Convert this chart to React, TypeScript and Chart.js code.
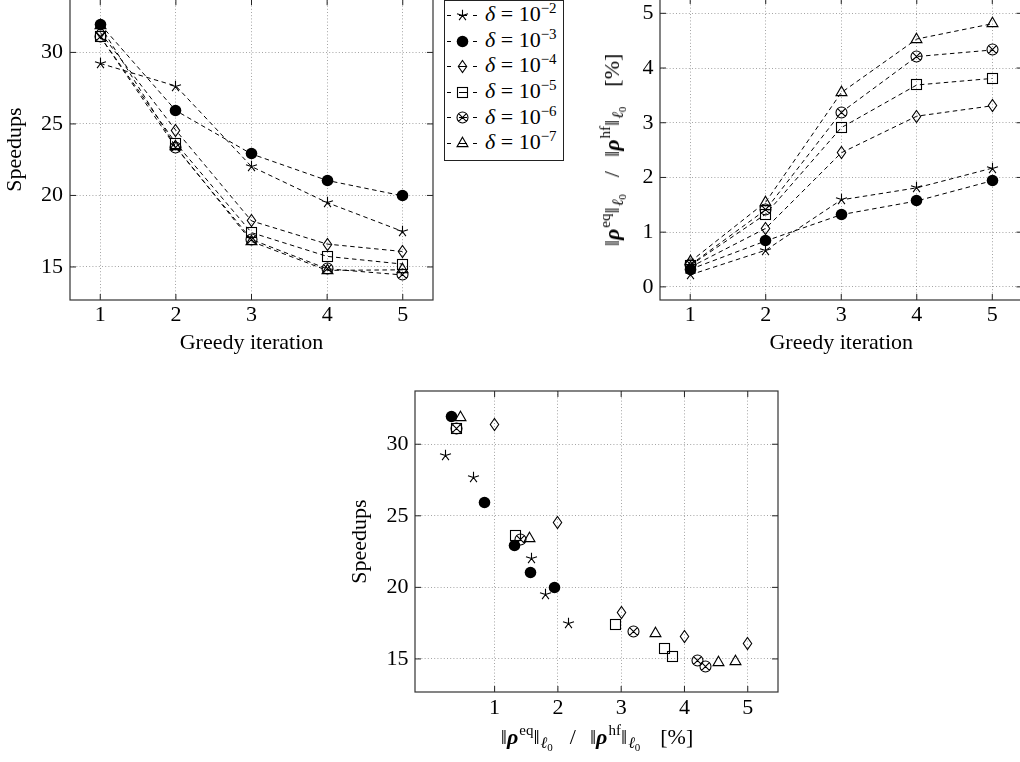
import React, { useEffect, useMemo, useRef } from 'react';
import { Chart, registerables } from 'chart.js';

Chart.register(...registerables);

const FONT = "'Liberation Serif', 'Times New Roman', Times, serif";
const FS = 22;

// ---------------- data ----------------
const iterations = [1, 2, 3, 4, 5];
const deltaExponents = ['−2', '−3', '−4', '−5', '−6', '−7'];

const speedupDelta2 = [29.23, 27.65, 22.02, 19.5, 17.48];
const speedupDelta3 = [31.97, 25.93, 22.9, 21.05, 19.97];
const speedupDelta4 = [31.4, 24.55, 18.22, 16.6, 16.08];
const speedupDelta5 = [31.1, 23.65, 17.4, 15.74, 15.2];
const speedupDelta6 = [31.1, 23.35, 16.92, 14.87, 14.44];
const speedupDelta7 = [31.85, 23.4, 16.78, 14.76, 14.8];

const ratioDelta2 = [0.22, 0.67, 1.59, 1.81, 2.17];
const ratioDelta3 = [0.32, 0.84, 1.32, 1.57, 1.94];
const ratioDelta4 = [0.36, 1.07, 2.45, 3.12, 3.31];
const ratioDelta5 = [0.39, 1.33, 2.91, 3.69, 3.81];
const ratioDelta6 = [0.4, 1.41, 3.19, 4.21, 4.33];
const ratioDelta7 = [0.46, 1.55, 3.55, 4.53, 4.81];

const speedupTicks = [15, 20, 25, 30];
const iterationTicks = [1, 2, 3, 4, 5];
const ratioTicks = [0, 1, 2, 3, 4, 5];
const scatterXTicks = [1, 2, 3, 4, 5];

const speedupRange = [12.69, 33.72];
const iterationRange = [0.6, 5.4];
const ratioRange = [-0.24, 5.28];
const scatterXRange = [-0.258, 5.478];

const speedupSeries = [speedupDelta2, speedupDelta3, speedupDelta4, speedupDelta5, speedupDelta6, speedupDelta7];
const ratioSeries = [ratioDelta2, ratioDelta3, ratioDelta4, ratioDelta5, ratioDelta6, ratioDelta7];
// In the reference scatter plot, the δ = 10^-4 series is placed at its iteration numbers.
const scatterXSeries = [ratioDelta2, ratioDelta3, iterations, ratioDelta5, ratioDelta6, ratioDelta7];

type MarkerKind = 'star' | 'dot' | 'diamond' | 'square' | 'otimes' | 'triangle';
const markerKinds: MarkerKind[] = ['star', 'dot', 'diamond', 'square', 'otimes', 'triangle'];

// ---------------- markers ----------------
function drawMarker(ctx: CanvasRenderingContext2D, kind: MarkerKind, cx: number, cy: number) {
  ctx.save();
  ctx.strokeStyle = '#000';
  ctx.fillStyle = '#000';
  ctx.lineWidth = 1.1;
  ctx.setLineDash([]);
  switch (kind) {
    case 'star': {
      const r = 5.8;
      ctx.beginPath();
      for (let k = 0; k < 5; k++) {
        const a = -Math.PI / 2 + (k * 2 * Math.PI) / 5;
        ctx.moveTo(cx, cy);
        ctx.lineTo(cx + r * Math.cos(a), cy + r * Math.sin(a));
      }
      ctx.stroke();
      break;
    }
    case 'dot':
      ctx.beginPath();
      ctx.arc(cx, cy, 5.8, 0, Math.PI * 2);
      ctx.fill();
      break;
    case 'diamond':
      ctx.beginPath();
      ctx.moveTo(cx, cy - 6);
      ctx.lineTo(cx + 4.2, cy);
      ctx.lineTo(cx, cy + 6);
      ctx.lineTo(cx - 4.2, cy);
      ctx.closePath();
      ctx.stroke();
      break;
    case 'square':
      ctx.strokeRect(cx - 5, cy - 5, 10, 10);
      break;
    case 'otimes': {
      const r = 5.5;
      const d = r * Math.SQRT1_2;
      ctx.beginPath();
      ctx.arc(cx, cy, r, 0, Math.PI * 2);
      ctx.moveTo(cx - d, cy - d);
      ctx.lineTo(cx + d, cy + d);
      ctx.moveTo(cx + d, cy - d);
      ctx.lineTo(cx - d, cy + d);
      ctx.stroke();
      break;
    }
    case 'triangle': {
      const r = 6.3;
      ctx.beginPath();
      ctx.moveTo(cx, cy - r);
      ctx.lineTo(cx + r * 0.866, cy + r * 0.5);
      ctx.lineTo(cx - r * 0.866, cy + r * 0.5);
      ctx.closePath();
      ctx.stroke();
      break;
    }
  }
  ctx.restore();
}

function makeLegendImage(kind: MarkerKind): string {
  const c = document.createElement('canvas');
  c.width = 32;
  c.height = 17;
  const ctx = c.getContext('2d')!;
  ctx.strokeStyle = '#000';
  ctx.lineWidth = 1;
  ctx.beginPath();
  ctx.moveTo(1, 8.5);
  ctx.lineTo(5, 8.5);
  ctx.moveTo(13, 8.5);
  ctx.lineTo(21, 8.5);
  ctx.moveTo(27, 8.5);
  ctx.lineTo(31, 8.5);
  ctx.stroke();
  drawMarker(ctx, kind, 16.5, 8.5);
  return c.toDataURL();
}

// Draws each dataset's marks at the positions computed by Chart.js' scales.
const markerPlugin = {
  id: 'pgfMarkers',
  afterDatasetDraw(chart: any, args: any) {
    const ds = chart.data.datasets[args.index];
    const kind: MarkerKind = ds.markerKind;
    const ctx = chart.ctx;
    args.meta.data.forEach((el: any) => {
      const { x, y } = el.getProps(['x', 'y'], true);
      drawMarker(ctx, kind, Math.round(x - 0.5) + 0.5, Math.round(y - 0.5) + 0.5);
    });
  },
};

// ---------------- chart helpers ----------------
function axis(
  range: number[],
  values: number[],
  dir: 'x' | 'y',
  size: number,
  tickPad: number,
  title?: { text: string; pad: number }
) {
  return {
    type: 'linear' as const,
    min: range[0],
    max: range[1],
    afterBuildTicks: (s: any) => {
      s.ticks = values.map((v) => ({ value: v }));
    },
    afterFit: (s: any) => {
      if (dir === 'y') s.width = size;
      else s.height = size;
    },
    grid: { color: 'rgba(0,0,0,0.45)', lineWidth: 0.8, drawTicks: false },
    border: { display: false, dash: [1, 2.2] },
    ticks: {
      color: '#000',
      font: { family: FONT, size: FS },
      padding: tickPad,
      callback: (v: any) => String(v),
    },
    title: title
      ? {
          display: true,
          text: title.text,
          color: '#000',
          font: { family: FONT, size: FS },
          padding: dir === 'y' ? { top: title.pad, bottom: 0 } : { top: 0, bottom: title.pad },
        }
      : { display: false },
  };
}

const framePlugin = {
  id: 'frameTicks',
  afterDraw(chart: any) {
    const { ctx, chartArea: a } = chart;
    const xs = chart.scales.x;
    const ys = chart.scales.y;
    const tl = 6;
    ctx.save();
    ctx.strokeStyle = '#222';
    ctx.lineWidth = 1;
    ctx.beginPath();
    xs.ticks.forEach((t: any) => {
      const p = xs.getPixelForValue(t.value);
      ctx.moveTo(p, a.bottom);
      ctx.lineTo(p, a.bottom - tl);
      ctx.moveTo(p, a.top);
      ctx.lineTo(p, a.top + tl);
    });
    ys.ticks.forEach((t: any) => {
      const p = ys.getPixelForValue(t.value);
      ctx.moveTo(a.left, p);
      ctx.lineTo(a.left + tl, p);
      ctx.moveTo(a.right, p);
      ctx.lineTo(a.right - tl, p);
    });
    ctx.stroke();
    ctx.strokeStyle = '#333';
    ctx.lineWidth = 1.2;
    ctx.strokeRect(a.left, a.top, a.right - a.left, a.bottom - a.top);
    ctx.restore();
  },
};

function datasets(xsList: number[][], ysList: number[][], showLine: boolean) {
  return xsList.map((xs, i) => ({
    label: 'δ = 10' + deltaExponents[i],
    markerKind: markerKinds[i],
    data: xs.map((x, j) => ({ x, y: ysList[i][j] })),
    showLine,
    borderColor: '#000',
    backgroundColor: 'rgba(0,0,0,0)',
    borderWidth: 1,
    borderDash: [4.5, 3.5],
    pointRadius: 0,
    pointHoverRadius: 0,
    tension: 0,
    order: 6 - i,
  }));
}

function baseOptions(scales: any, padRight: number) {
  return {
    responsive: false,
    animation: false as const,
    events: [] as any[],
    layout: { padding: { top: 20, left: 0, right: padRight, bottom: 0 } },
    plugins: { legend: { display: false }, tooltip: { enabled: false } },
    scales,
  };
}

// ---------------- rich text ----------------
const supStyle: React.CSSProperties = { fontSize: 15, verticalAlign: '9px', lineHeight: 0, marginLeft: 1 };
const subStyle: React.CSSProperties = { fontSize: 16, verticalAlign: '-4px', lineHeight: 0, marginLeft: 1 };
const subSubStyle: React.CSSProperties = { fontSize: 11, verticalAlign: '-3px', lineHeight: 0 };

function NormL0({ sup }: { sup: string }) {
  return (
    <>
      ‖<b><i>ρ</i></b><span style={supStyle}>{sup}</span>‖<span style={subStyle}><i>ℓ</i><span style={subSubStyle}>0</span></span>
    </>
  );
}

function RatioLabel() {
  return (
    <span style={{ fontFamily: FONT, fontSize: FS, lineHeight: '22px', whiteSpace: 'nowrap', color: '#000' }}>
      <NormL0 sup="eq" />
      <span style={{ margin: '0 14px 0 17px' }}>/</span>
      <NormL0 sup="hf" />
      <span style={{ marginLeft: 20 }}>[%]</span>
    </span>
  );
}

export default function App() {
  const tlRef = useRef<HTMLCanvasElement>(null);
  const trRef = useRef<HTMLCanvasElement>(null);
  const bRef = useRef<HTMLCanvasElement>(null);
  const legendImages = useMemo(() => markerKinds.map((k) => makeLegendImage(k)), []);

  useEffect(() => {
    Chart.defaults.font.family = FONT;
    const iterList = speedupSeries.map(() => iterations);
    const charts: Chart[] = [];

    charts.push(
      new Chart(tlRef.current!, {
        type: 'scatter',
        data: { datasets: datasets(iterList, speedupSeries, true) as any },
        options: baseOptions(
          {
            x: axis(iterationRange, iterationTicks, 'x', 60, 2, { text: 'Greedy iteration', pad: 4 }),
            y: axis(speedupRange, speedupTicks, 'y', 70, 7, { text: 'Speedups', pad: 2 }),
          },
          7
        ) as any,
        plugins: [markerPlugin, framePlugin],
      })
    );

    charts.push(
      new Chart(trRef.current!, {
        type: 'scatter',
        data: { datasets: datasets(iterList, ratioSeries, true) as any },
        options: baseOptions(
          {
            x: axis(iterationRange, iterationTicks, 'x', 60, 2, { text: 'Greedy iteration', pad: 4 }),
            y: axis(ratioRange, ratioTicks, 'y', 60, 6.5),
          },
          7.5
        ) as any,
        plugins: [markerPlugin, framePlugin],
      })
    );

    charts.push(
      new Chart(bRef.current!, {
        type: 'scatter',
        data: { datasets: datasets(scatterXSeries, speedupSeries, false) as any },
        options: baseOptions(
          {
            x: axis(scatterXRange, scatterXTicks, 'x', 70, 3),
            y: axis(speedupRange, speedupTicks, 'y', 70, 6.5, { text: 'Speedups', pad: 2 }),
          },
          7
        ) as any,
        plugins: [markerPlugin, framePlugin],
      })
    );

    return () => charts.forEach((c) => c.destroy());
  }, []);

  return (
    <div style={{ position: 'fixed', left: 0, top: 0, width: 1020, height: 762, overflow: 'hidden', background: '#fff' }}>
      <canvas ref={tlRef} width={440} height={381} style={{ position: 'absolute', left: 0, top: -21 }} />
      <canvas ref={trRef} width={430} height={382} style={{ position: 'absolute', left: 600, top: -22 }} />
      <canvas ref={bRef} width={440} height={391} style={{ position: 'absolute', left: 345, top: 371 }} />

      {/* legend */}
      <div
        style={{
          position: 'absolute',
          left: 444,
          top: 0,
          width: 118,
          height: 159,
          border: '1px solid #222',
          background: '#fff',
          fontFamily: FONT,
          fontSize: FS,
          color: '#000',
        }}
      >
        {deltaExponents.map((exp, i) => {
          const baseline = 20.5 + 25.6 * i - 1;
          return (
            <div key={i}>
              <img
                src={legendImages[i]}
                width={32}
                height={17}
                style={{ position: 'absolute', left: 1, top: Math.round(baseline - 5 - 8.5) }}
              />
              <span
                style={{
                  position: 'absolute',
                  left: 40,
                  top: baseline - 17.4,
                  lineHeight: '22px',
                  whiteSpace: 'nowrap',
                }}
              >
                <i>δ</i> = 10<span style={{ fontSize: 15, verticalAlign: '8px', lineHeight: 0 }}>{exp}</span>
              </span>
            </div>
          );
        })}
      </div>

      {/* top-right y title */}
      <div
        style={{
          position: 'absolute',
          left: 613,
          top: 150,
          transform: 'translate(-50%, -50%) rotate(-90deg)',
          whiteSpace: 'nowrap',
          lineHeight: '22px',
        }}
      >
        <RatioLabel />
      </div>

      {/* bottom x title */}
      <div
        style={{
          position: 'absolute',
          left: 597,
          top: 738,
          transform: 'translate(-50%, -50%)',
          whiteSpace: 'nowrap',
          lineHeight: '22px',
        }}
      >
        <RatioLabel />
      </div>
    </div>
  );
}
